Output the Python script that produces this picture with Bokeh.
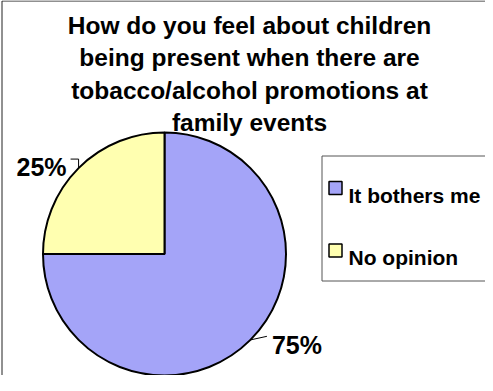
import math
from bokeh.plotting import figure
from bokeh.models import Range1d
from bokeh.core.properties import value
from bokeh.embed import file_html
from bokeh.resources import INLINE

# ---- data ----
TITLE_LINES = [
    "How do you feel about children",
    "being present when there are",
    "tobacco/alcohol promotions at",
    "family events",
]
CATEGORIES = ["It bothers me", "No opinion"]
SHARES = [75, 25]
COLORS = ["#A4A4F8", "#FFFFB0"]

FONT = value("Liberation Sans")

W, H = 485, 375
p = figure(width=W, height=H, output_backend="svg", toolbar_location=None,
           x_range=Range1d(8, 8 + W), y_range=Range1d(8, 383),
           x_axis_location=None, y_axis_location=None, min_border=0)
p.grid.visible = False
p.outline_line_color = None
p.background_fill_color = "white"


def Y(v):
    # page pixel row -> data y
    return 391 - v


# outer chart frame (left/top edges visible)
p.quad(left=[9.5], right=[700], top=[Y(8.5)], bottom=[-200],
       fill_color=None, line_color="#222222", line_width=1)

# title
for i, line in enumerate(TITLE_LINES):
    p.text(x=[257], y=[Y(32.5 + 32.5 * i)], text=[line], text_align="center",
           text_baseline="alphabetic", text_font=FONT, text_font_style="bold",
           text_font_size="24.5px", text_color="black")

# pie
cx, cy, r = 172, Y(261.5), 121.5
total = sum(SHARES)
cum = 0
starts, ends, mids = [], [], []
for s in SHARES:
    a0 = math.pi / 2 - cum / total * 2 * math.pi
    a1 = math.pi / 2 - (cum + s) / total * 2 * math.pi
    starts.append(a0)
    ends.append(a1)
    mids.append((a0 + a1) / 2)
    cum += s

p.wedge(x=cx, y=cy, radius=r, start_angle=starts, end_angle=ends,
        direction="clock", fill_color=COLORS, line_color="black", line_width=2)

# data labels with leader lines
for s, a in zip(SHARES, mids):
    px = cx + r * math.cos(a)
    py = cy + r * math.sin(a)
    lab = f"{round(s / total * 100)}%"
    if math.cos(a) < 0:
        ey = py + 9
        ex = px - 8
        p.line(x=[px, px, ex], y=[py, ey, ey], line_color="black", line_width=1)
        p.text(x=[ex - 4], y=[ey - 8], text=[lab], text_align="right",
               text_baseline="alphabetic", text_font=FONT, text_font_style="bold",
               text_font_size="25px", text_color="black")
    else:
        ex = px + 16.5
        ey = py + 3.6
        p.line(x=[px, ex], y=[py, ey], line_color="black", line_width=1)
        p.text(x=[ex + 5], y=[ey - 8.5], text=[lab], text_align="left",
               text_baseline="alphabetic", text_font=FONT, text_font_style="bold",
               text_font_size="25px", text_color="black")

# legend
p.quad(left=[329.5], right=[700], top=[Y(163.5)], bottom=[Y(288.5)],
       fill_color="white", line_color="#555555", line_width=1)
for i, (cat, col) in enumerate(zip(CATEGORIES, COLORS)):
    yc = Y(195.5 + 62.5 * i)
    p.rect(x=[343], y=[yc], width=13, height=13, fill_color=col,
           line_color="black", line_width=1.5)
    p.text(x=[356], y=[yc - 7], text=[cat], text_align="left",
           text_baseline="alphabetic", text_font=FONT, text_font_style="bold",
           text_font_size="21px", text_color="black")

open("out.html", "w").write(file_html(p, INLINE))
